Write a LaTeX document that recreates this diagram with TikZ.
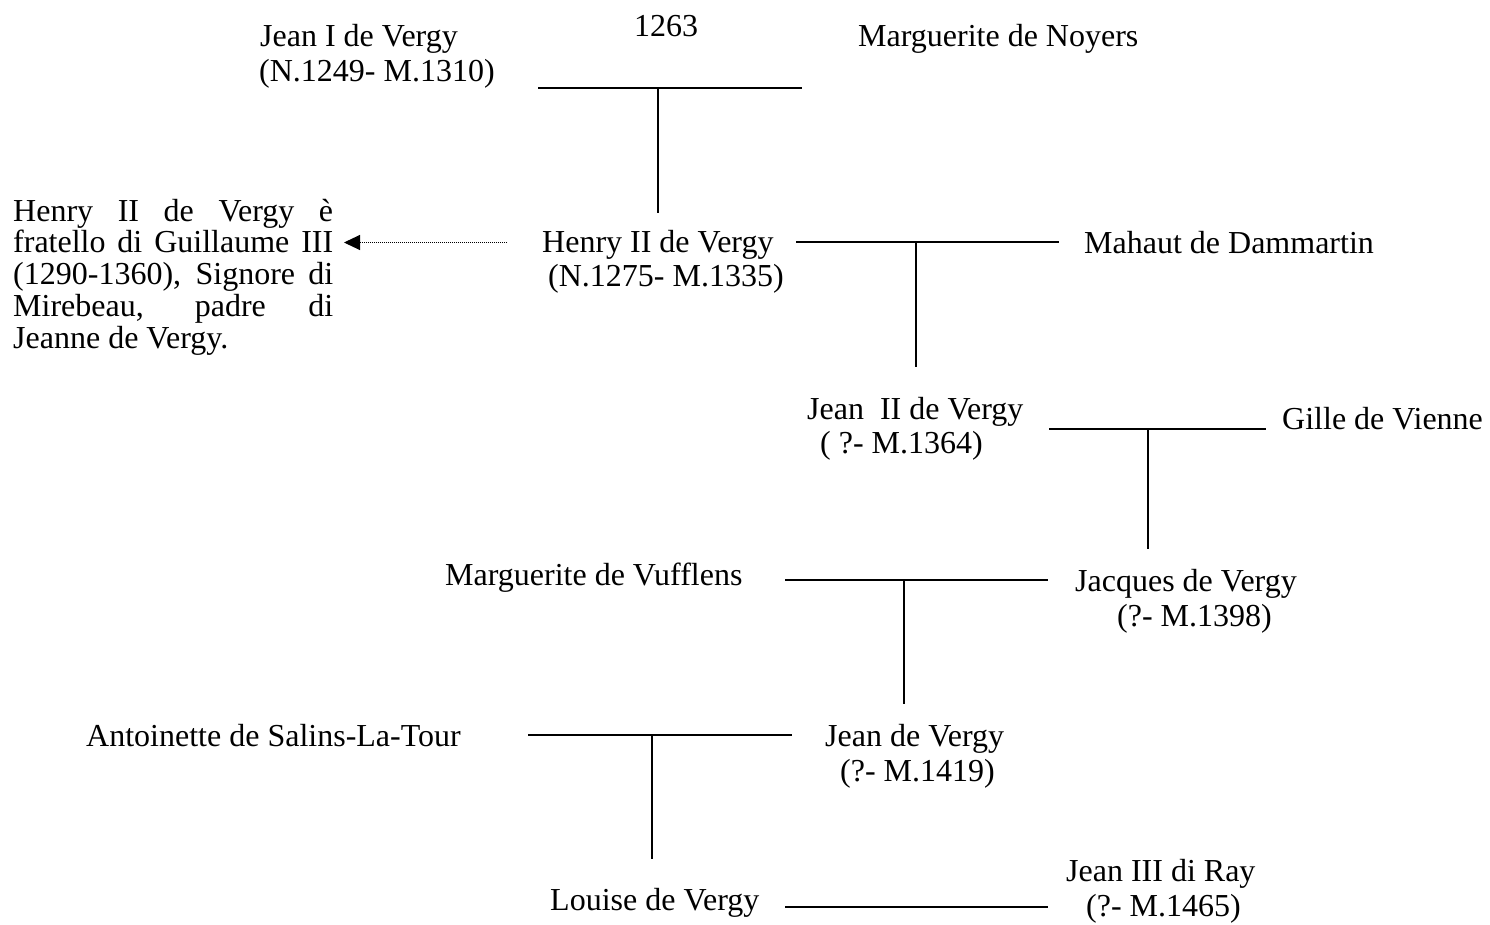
\documentclass[tikz,border=0pt]{standalone}
\usepackage{fontspec}
\setmainfont{Liberation Serif}
\usetikzlibrary{arrows.meta}
\begin{document}
\begin{tikzpicture}[x=1pt,y=-1pt,
  person/.style={anchor=base west,inner sep=0pt,font=\fontsize{32}{36}\selectfont},
  link/.style={line width=1.6pt},
  notebox/.style={anchor=base west,inner sep=0pt,text width=320pt,align=justify,font=\fontsize{32}{31.8}\selectfont}]
\useasboundingbox (0,0) rectangle (1490,924);
% people
\node[person,anchor=base] (y1263) at (666,36) {1263};
\node[person] (jean1) at (260,46) {Jean I de Vergy};
\node[person] (jean1d) at (259,81) {(N.1249- M.1310)};
\node[person] (margn) at (858,46) {Marguerite de Noyers};
\node[person] (henry) at (542,252) {Henry II de Vergy};
\node[person] (henryd) at (548,286) {(N.1275- M.1335)};
\node[person] (mahaut) at (1084,253) {Mahaut de Dammartin};
\node[person] (jean2) at (807,419) {Jean\ \ II de Vergy};
\node[person] (jean2d) at (820,453) {( ?- M.1364)};
\node[person] (gille) at (1282,429) {Gille de Vienne};
\node[person] (margv) at (445,585) {Marguerite de Vufflens};
\node[person] (jacques) at (1075,591) {Jacques de Vergy};
\node[person] (jacquesd) at (1117,626) {(?- M.1398)};
\node[person] (antoin) at (86,746) {Antoinette de Salins-La-Tour};
\node[person] (jean3) at (825,746) {Jean de Vergy};
\node[person] (jean3d) at (840,781) {(?- M.1419)};
\node[person] (louise) at (550,910) {Louise de Vergy};
\node[person] (jeanray) at (1066,881) {Jean III di Ray};
\node[person] (jeanrayd) at (1086,916) {(?- M.1465)};
% note
\node[notebox] (note) at (13,221) {Henry II de Vergy è\linebreak fratello di Guillaume III\linebreak (1290-1360), Signore di\linebreak Mirebeau, padre di\linebreak Jeanne de Vergy.};
% marriage lines
\coordinate (m1l) at (538,88); \coordinate (m1r) at (802,88);
\coordinate (m1c) at (658,88); \coordinate (m1e) at (658,213);
\coordinate (m2l) at (796,242); \coordinate (m2r) at (1059,242);
\coordinate (m2c) at (916,242); \coordinate (m2e) at (916,367);
\coordinate (m3l) at (1049,429); \coordinate (m3r) at (1266,429);
\coordinate (m3c) at (1148,429); \coordinate (m3e) at (1148,549);
\coordinate (m4l) at (785,580); \coordinate (m4r) at (1048,580);
\coordinate (m4c) at (904,580); \coordinate (m4e) at (904,704);
\coordinate (m5l) at (528,735); \coordinate (m5r) at (792,735);
\coordinate (m5c) at (652,735); \coordinate (m5e) at (652,859);
\coordinate (m6l) at (785,907); \coordinate (m6r) at (1048,907);
\draw[link] (m1l) -- (m1r) (m1c) -- (m1e);
\draw[link] (m2l) -- (m2r) (m2c) -- (m2e);
\draw[link] (m3l) -- (m3r) (m3c) -- (m3e);
\draw[link] (m4l) -- (m4r) (m4c) -- (m4e);
\draw[link] (m5l) -- (m5r) (m5c) -- (m5e);
\draw[link] (m6l) -- (m6r);
% note arrow
\coordinate (as) at (507,242.5);
\coordinate (at) at (344,242.5);
\draw[line width=1pt,dash pattern=on 1pt off 1pt,-{Triangle[length=16pt,width=15pt,sep=0pt]}] (as) -- (at);
\end{tikzpicture}
\end{document}
